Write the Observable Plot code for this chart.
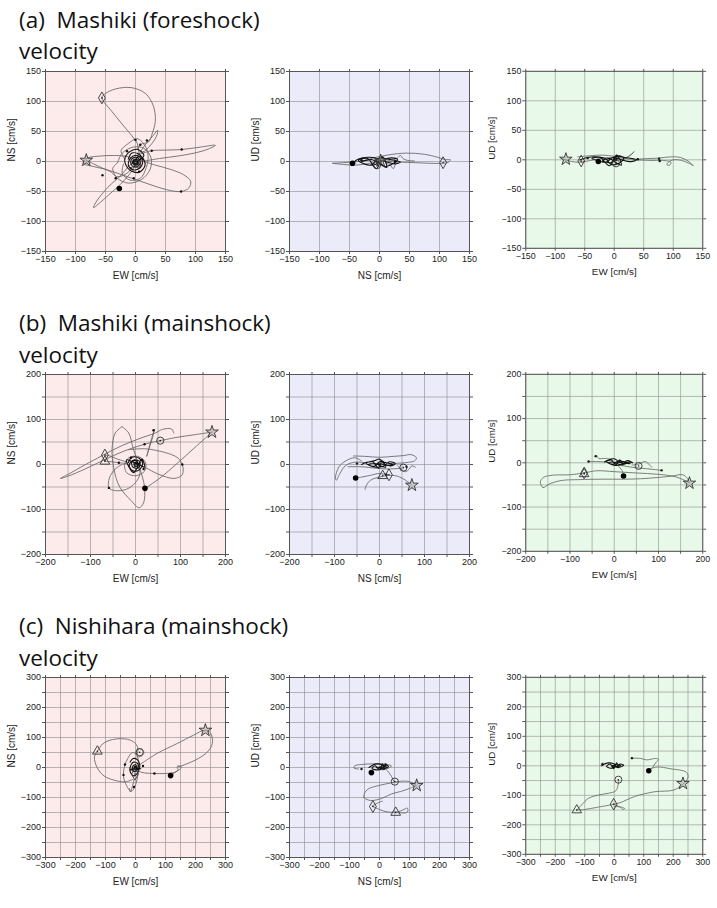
<!DOCTYPE html>
<html>
<head>
<meta charset="utf-8">
<script src="https://cdn.jsdelivr.net/npm/d3@7"></script>
<script src="https://cdn.jsdelivr.net/npm/@observablehq/plot@0.6"></script>
<style>
  body { margin: 0; background: #fff; }
  #page { position: relative; width: 717px; height: 908px; overflow: hidden; }
  .title { position: absolute; left: 19px; font-family: "Open Sans", sans-serif; font-size: 22.5px; line-height: 1; color: #111; white-space: pre; }
  .panel { position: absolute; }
  .panel svg { overflow: visible; }
</style>
</head>
<body>
<div id="page"></div>
<script>
// Particle motion of ground velocity (cm/s), shown as three 2-D projections per record.

const recordTitles = ["(a)  Mashiki (foreshock)", "(b)  Mashiki (mainshock)", "(c)  Nishihara (mainshock)"];
const quantityLabel = "velocity";
const axisLimits = [150, 200, 300];
const labelSteps = [50, 100, 100];
const gridStep = 50;
const panelFills = ["#fdeaea", "#ebebfa", "#e9f9e9"];
const axisNames = [["EW [cm/s]", "NS [cm/s]"], ["NS [cm/s]", "UD [cm/s]"], ["EW [cm/s]", "UD [cm/s]"]];
// component index (EW=0, NS=1, UD=2) used for the x and y of each projection
const projections = [[0, 1], [1, 2], [0, 2]];

// symbol positions [EW, NS, UD]
const aSymbols = {star: [-82, 2, 1], diamond: [-56, 106, -2], circle: [3, -4, -6], dot: [-27, -45, -3]};
const bSymbols = {star: [170, 72, -46], diamond: [-68, 21, -23], circle: [55, 53, -7], triangle: [-68, 7, -25], dot: [21, -53, -30]};
const cSymbols = {star: [233, 124, -60], diamond: [-2, -22, -130], circle: [14, 51, -47], triangle: [-127, 54, -150], dot: [117, -27, -17]};

// ---- (a) Mashiki foreshock ----
const aEwNs = [
  [[-82,2],[-70,-4],[-55,-11],[-40,-18],[-32,-25],[-20,-23],[-6,-12],[2,0]],
  [[2,4],[8,16],[18,30],[30,44],[37,52],[35,42],[24,26],[12,16],[4,20],[8,28],[22,33],[28,47],[33,67],[30,92],[17,113],[-6,123],[-33,121],[-52,112],[-56,106],[-39,83],[-17,56],[-3,39],[3,30],[5,18],[3,8]],
  [[6,12],[27,18],[50,19],[77,20],[108,24],[133,27],[122,21],[98,14],[70,9],[40,5],[16,1]],
  [[14,0],[33,-6],[58,-13],[80,-22],[92,-33],[89,-44],[76,-50],[52,-47],[26,-39],[0,-30],[-26,-21],[-50,-13],[-72,-8],[-87,-3],[-82,5],[-60,9],[-35,10],[-12,8],[0,3]],
  [[1,-4],[-9,-20],[-25,-38],[-45,-56],[-62,-71],[-70,-77],[-66,-68],[-54,-52],[-40,-37],[-25,-24],[-14,-11],[-4,-1]],
  [[-18,4],[-24,18],[-12,30],[3,38],[16,26],[21,10],[18,-10],[8,-28],[-9,-31],[-22,-20],[-20,-4]],
  [[-30,-2],[-38,-12],[-30,-28],[-12,-36],[10,-30],[24,-14],[26,6],[14,22],[-4,24],[-22,14],[-30,-2]]
];
const aEwNsCore = [[-12,4],[-6,14],[6,12],[12,2],[8,-10],[-4,-14],[-12,-6],[-8,6],[2,10],[9,4],[6,-6],[-3,-9],[-8,-2],[-4,6],[4,6],[6,-1],[1,-6],[-5,-3],[-3,3],[3,3],[3,-3],[-2,-3],[-1,1],[2,1],[14,10],[4,20],[-10,16],[-18,2],[-10,-14],[6,-18],[16,-6],[10,8],[0,4],[-4,-4],[4,-2],[0,0],[-2,2],[2,-1]];
const aEwNsTicks = [[0,36],[19,35],[27,18],[77,20],[-55,-23],[-33,-28],[8,28],[76,-50],[-14,17],[-8,-11],[6,-17],[-3,-28]];

const aNsUd = [
  [[-78,-3],[-62,-2],[-45,-1],[-28,1],[-10,6],[15,11],[45,14],[75,12],[97,7],[110,3],[118,3],[115,-1],[104,-3],[85,-3],[60,-2],[35,-1],[15,0]],
  [[-78,-3],[-60,-5],[-40,-6],[-22,-4],[-8,-2]],
  [[12,1],[24,3],[30,6],[35,10],[39,5],[46,2],[58,1]],
  [[10,-2],[18,-6],[23,-12],[26,-6],[30,-1]]
];
const aNsUdCore = [[-45,-3],[-35,4],[-20,7],[-5,5],[8,-8],[20,-5],[30,3],[20,6],[5,2],[-10,-6],[-25,-4],[-35,2],[-20,5],[-5,-12],[5,8],[12,-10],[0,-4],[-12,3],[-30,-1],[-15,-6],[0,6],[15,4],[35,-1],[25,-4],[10,0],[-5,3],[-3,-3],[4,2],[2,-2],[0,0],[-2,1]];
const aNsUdTicks = [[-30,2],[26,0]];

const aEwUd = [
  [[-88,2],[-80,-1],[-65,-4],[-50,-3],[-30,1],[-10,4],[10,3],[30,1],[55,2],[76,3],[95,5],[112,4],[125,-2],[134,-10],[127,-6],[114,-1],[100,0],[93,-3],[89,-8],[94,-9],[96,-4],[82,-1],[60,-1],[38,0]],
  [[16,0],[26,7],[34,14],[29,9],[21,4]],
  [[-62,5],[-40,7],[-20,8],[0,6],[15,4]],
  [[-58,-1],[-55,-5],[-50,-3]]
];
const aEwUdCore = [[-58,0],[-45,4],[-30,5],[-15,2],[-5,-8],[8,-6],[16,3],[8,7],[-4,3],[-14,-4],[-26,-2],[-38,2],[-24,4],[-8,-10],[4,8],[12,-9],[2,-4],[-8,2],[-20,-1],[-6,-5],[6,6],[18,4],[38,0],[28,-3],[12,0],[0,3],[-2,-3],[5,2],[3,-2],[1,0]];
const aEwUdTicks = [[76,2],[77,-2],[40,1],[-45,3]];

// ---- (b) Mashiki mainshock ----
const bEwNs = [
  [[170,72],[130,36],[92,2],[57,-28],[32,-46],[21,-53]],
  [[55,53],[90,60],[130,66],[170,72]],
  [[85,70],[80,79],[60,78],[44,70],[10,58],[-30,42],[-70,22],[-111,0],[-150,-22],[-167,-31],[-150,-26],[-110,-9],[-70,10],[-30,28],[10,42],[40,50],[55,53]],
  [[-15,33],[20,35],[52,30],[80,22],[95,14],[104,0],[106,-12],[103,-24],[86,-31],[52,-22],[22,-7],[5,0]],
  [[-30,84],[-45,70],[-52,35],[-48,-10],[-35,-50],[-10,-80],[8,-96],[18,-85],[20,-50],[10,-10],[-5,35],[-15,70],[-30,84]],
  [[42,78],[38,60],[30,35],[25,18],[28,30],[35,55],[42,78]],
  [[-30,0],[-45,-10],[-58,-30],[-59,-52],[-45,-58],[-20,-55],[0,-40],[10,-20],[5,0]],
  [[-25,0],[-20,-18],[0,-25],[20,-15],[22,5],[5,18],[-15,15],[-25,0]],
  [[-68,21],[-60,20],[-40,12],[-20,6]],
  [[-68,7],[-52,6],[-37,4],[-20,2]]
];
const bEwNsCore = [[-16,4],[-8,16],[8,14],[16,2],[8,-12],[-6,-14],[-14,-2],[-4,10],[10,6],[6,-8],[-6,-6],[-8,6],[2,8],[6,-2],[-2,-4],[-3,3],[3,4],[4,-3],[-3,-2],[0,3],[20,-6],[14,12],[-4,-18],[-20,10],[0,2],[2,0],[-1,1]];
const bEwNsTicks = [[-59,-52],[104,0],[-37,4],[40,76],[20,45],[18,-10],[-10,15]];

const bNsUd = [
  [[-58,19],[-30,18],[0,16],[30,18],[55,20],[70,22],[82,15],[78,8],[65,5],[45,3],[20,2]],
  [[-40,8],[-55,15],[-75,8],[-90,-5],[-98,-30],[-96,-35],[-88,-20],[-75,-2],[-55,5],[-30,4]],
  [[-32,-55],[-30,-48],[-20,-35],[0,-28],[20,-24],[40,-26],[58,-35],[72,-46]],
  [[-54,-30],[-40,-28],[-20,-24],[0,-20],[18,-24]],
  [[40,-3],[50,-12],[58,-16],[66,-10],[72,-3],[80,-6]],
  [[-70,-5],[-40,-5],[-10,-8],[20,-10],[50,-8]]
];
const bNsUdCore = [[-40,0],[-28,5],[-12,8],[0,12],[10,2],[25,-3],[35,2],[22,6],[8,-4],[-8,-6],[-22,-2],[-30,3],[-15,6],[-2,-8],[6,8],[14,-6],[2,-3],[-10,2],[-25,0],[-12,-4],[0,6],[15,4],[30,0],[18,-2],[4,1],[-3,2],[2,-1],[0,1]];
const bNsUdTicks = [[-50,2],[60,-5],[15,-22]];

const bEwUd = [
  [[-68,-23],[-100,-27],[-140,-28],[-160,-33],[-167,-43],[-161,-56],[-147,-48],[-120,-40],[-80,-38],[-28,-37],[20,-37],[60,-36],[100,-33],[130,-30],[155,-27],[165,-35],[170,-45]],
  [[-68,-23],[-40,-18],[0,-20],[50,-23],[100,-26],[140,-32],[170,-45]],
  [[10,-5],[40,-10],[70,-13],[107,-17]],
  [[-39,16],[-35,10],[-20,10],[-5,8]],
  [[40,-5],[55,-3],[70,3],[80,-5],[85,-10]],
  [[-58,3],[-40,3],[-20,2]],
  [[21,-30],[18,-18],[10,-8]]
];
const bEwUdCore = [[-22,2],[-12,7],[0,9],[10,3],[22,-3],[34,2],[42,0],[30,5],[16,-4],[2,-6],[-10,-2],[-18,3],[-6,6],[4,-5],[12,7],[20,-5],[8,-2],[-4,2],[-14,0],[-2,-3],[10,4],[25,2],[36,-2],[18,0],[5,2],[0,-1],[4,1]];
const bEwUdTicks = [[107,-17],[-58,3],[-42,15]];

// ---- (c) Nishihara mainshock ----
const cEwNs = [
  [[-127,54],[-110,78],[-85,91],[-50,96],[-20,92],[0,80],[8,62],[5,40]],
  [[-127,54],[-137,35],[-128,0],[-105,-28],[-72,-42],[-35,-48],[-10,-40]],
  [[0,0],[30,20],[72,47],[139,80],[194,108],[230,124],[250,115],[256,80],[240,52],[200,25],[152,5],[138,0],[142,-6],[130,-18],[117,-27]],
  [[0,-10],[30,-18],[63,-20],[100,-20],[130,-16],[150,-4],[152,3],[140,5]],
  [[-20,40],[-35,10],[-40,-30],[-30,-60],[-15,-80],[-5,-70],[5,-40],[10,0],[5,40],[-10,50],[-20,40]],
  [[0,45],[5,60],[20,62],[28,50],[20,38],[5,35]],
  [[-5,-40],[-10,-62],[-17,-81],[-20,-70]]
];
const cEwNsCore = [[-18,18],[-8,30],[6,26],[14,10],[10,-12],[-4,-28],[-16,-18],[-18,0],[-6,18],[8,12],[6,-8],[-6,-14],[-10,2],[0,10],[4,-2],[-2,-6],[-4,2],[2,4],[0,-2],[18,-4],[-20,-8],[0,0],[2,2]];
const cEwNsTicks = [[63,-20],[-40,-25],[-35,10],[25,5],[-5,-65]];

const cNsUd = [
  [[-70,-5],[-85,-2],[-82,6],[-60,10],[-30,12],[0,12],[25,10],[40,5],[30,-2],[10,-8]],
  [[-53,-99],[-48,-82],[-35,-70],[-10,-62],[20,-55],[45,-50],[70,-46],[95,-46],[110,-52],[122,-60]],
  [[122,-60],[100,-70],[70,-80],[40,-88],[15,-100],[-10,-108],[-30,-110],[-45,-105],[-53,-99]],
  [[48,-47],[40,-30],[30,-15],[20,-5]],
  [[-24,-129],[0,-140],[25,-148],[49,-149],[70,-145],[85,-138],[92,-135],[95,-145],[88,-151],[70,-151],[49,-149]],
  [[-24,-129],[-10,-120],[10,-112]]
];
const cNsUdCore = [[-35,0],[-22,8],[-8,12],[6,10],[18,-2],[30,3],[20,8],[6,-6],[-10,-8],[-25,-2],[-14,6],[0,-8],[10,12],[16,-6],[2,-2],[-12,3],[-4,-4],[8,5],[26,0],[12,-2],[2,2],[-2,0],[1,1]];
const cNsUdTicks = [[-60,-5],[20,10]];

const cEwUd = [
  [[-127,-150],[-110,-132],[-87,-110],[-53,-99],[-20,-93],[5,-85],[13,-65],[14,-47]],
  [[-127,-150],[-100,-148],[-60,-141],[-20,-134],[-2,-130],[20,-125],[69,-104],[136,-88],[202,-82],[233,-62],[250,-40],[245,-22],[191,-10],[147,-4],[124,-10],[117,-17]],
  [[-2,-130],[20,-140],[30,-148],[35,-145],[25,-140],[0,-138]],
  [[117,-17],[130,-5],[140,10],[150,22],[140,25],[110,20],[90,25],[60,26]],
  [[-45,0],[-40,10],[-30,5]]
];
const cEwUdCore = [[-42,0],[-30,8],[-15,10],[0,6],[12,-6],[26,-2],[32,2],[20,6],[4,-4],[-12,-8],[-26,-2],[-14,6],[-2,-10],[8,10],[14,-6],[2,-2],[-10,3],[-4,-4],[6,5],[22,0],[10,-2],[0,2],[-2,0],[1,1]];
const cEwUdTicks = [[60,26],[-40,5]];

const records = [
  {symbols: aSymbols, traces: [aEwNs, aNsUd, aEwUd], cores: [aEwNsCore, aNsUdCore, aEwUdCore], ticks: [aEwNsTicks, aNsUdTicks, aEwUdTicks]},
  {symbols: bSymbols, traces: [bEwNs, bNsUd, bEwUd], cores: [bEwNsCore, bNsUdCore, bEwUdCore], ticks: [bEwNsTicks, bNsUdTicks, bEwUdTicks]},
  {symbols: cSymbols, traces: [cEwNs, cNsUd, cEwUd], cores: [cEwNsCore, cNsUdCore, cEwUdCore], ticks: [cEwNsTicks, cNsUdTicks, cEwUdTicks]}
];

// page layout
const rowFrameTops = [70.5, 374, 677];
const colLefts = [0, 244, 481];
const M = {left: 45, right: 15, top: 10, bottom: 42};
const frameSize = 180;

const page = document.getElementById("page");
const fmt = d3.format("d");

function drawPanel(rec, r, c) {
  const lim = axisLimits[r];
  const gridVals = d3.range(-lim, lim + 1, gridStep);
  const labelVals = d3.range(-lim, lim + 1, labelSteps[r]);
  const [ix, iy] = projections[c];
  const segs = rec.traces[c].flatMap((seg, k) => seg.map(([x, y]) => ({x, y, k})));
  const core = rec.cores[c].map(([x, y]) => ({x, y}));
  const ticks = rec.ticks[c].map(([x, y]) => ({x, y}));
  const sym = (name) => rec.symbols[name] ? [{x: rec.symbols[name][ix], y: rec.symbols[name][iy]}] : [];
  const open = {x: "x", y: "y", r: 3.6, fill: "none", stroke: "#333", strokeWidth: 0.9};
  const centre = {x: "x", y: "y", r: 0.8, fill: "#222"};
  return Plot.plot({
    width: M.left + frameSize + M.right,
    height: M.top + frameSize + M.bottom,
    marginLeft: M.left, marginRight: M.right, marginTop: M.top, marginBottom: M.bottom,
    x: {domain: [-lim, lim], label: null},
    y: {domain: [-lim, lim], label: null},
    style: {fontFamily: "'Liberation Sans', Arial, sans-serif", fontSize: "9px", color: "#222", background: "transparent"},
    marks: [
      Plot.frame({fill: panelFills[c]}),
      Plot.gridX(gridVals, {stroke: "#8a8a8a", strokeOpacity: 0.75, strokeWidth: 0.8}),
      Plot.gridY(gridVals, {stroke: "#8a8a8a", strokeOpacity: 0.75, strokeWidth: 0.8}),
      Plot.axisX(gridVals, {tickSize: 3, tickPadding: 1.5, stroke: "#555", tickFormat: d => labelVals.includes(d) ? fmt(d) : ""}),
      Plot.axisY(gridVals, {tickSize: 3, tickPadding: 1.5, stroke: "#555", tickFormat: d => labelVals.includes(d) ? fmt(d) : ""}),
      Plot.axisX(gridVals, {anchor: "top", tickSize: 3, stroke: "#555", tickFormat: () => ""}),
      Plot.axisY(gridVals, {anchor: "right", tickSize: 3, stroke: "#555", tickFormat: () => ""}),
      Plot.line(segs, {x: "x", y: "y", z: "k", curve: "catmull-rom", stroke: "#666", strokeWidth: 0.85}),
      Plot.line(core, {x: "x", y: "y", curve: "catmull-rom", stroke: "#111", strokeWidth: 1.1}),
      Plot.dot(ticks, {x: "x", y: "y", r: 1.2, fill: "#111"}),
      Plot.dot(sym("star"), {...open, symbol: "star", r: 4, fill: "#a0a0a0", fillOpacity: 0.45}),
      Plot.dot(sym("diamond"), {...open, symbol: "diamond"}),
      Plot.dot(sym("diamond"), centre),
      Plot.dot(sym("circle"), {...open, symbol: "circle"}),
      Plot.dot(sym("circle"), centre),
      Plot.dot(sym("triangle"), {...open, symbol: "triangle"}),
      Plot.dot(sym("triangle"), centre),
      Plot.dot(sym("dot"), {x: "x", y: "y", r: 2.8, fill: "#000"}),
      Plot.frame({stroke: "#555", strokeWidth: 1}),
      Plot.text([axisNames[c][0]], {frameAnchor: "bottom", dy: 27, fontSize: 10, fill: "#222"}),
      Plot.text([axisNames[c][1]], {frameAnchor: "left", dx: -34, rotate: -90, fontSize: 10, fill: "#222"})
    ]
  });
}

records.forEach((rec, r) => {
  const top = rowFrameTops[r];
  [recordTitles[r], quantityLabel].forEach((t, j) => {
    const div = document.createElement("div");
    div.className = "title";
    div.textContent = t;
    div.style.top = (top - (j === 0 ? 62 : 30.5)) + "px";
    page.appendChild(div);
  });
  for (let c = 0; c < 3; c++) {
    const holder = document.createElement("div");
    holder.className = "panel";
    holder.style.left = colLefts[c] + "px";
    holder.style.top = (top - M.top) + "px";
    holder.appendChild(drawPanel(rec, r, c));
    page.appendChild(holder);
  }
});
</script>
</body>
</html>
